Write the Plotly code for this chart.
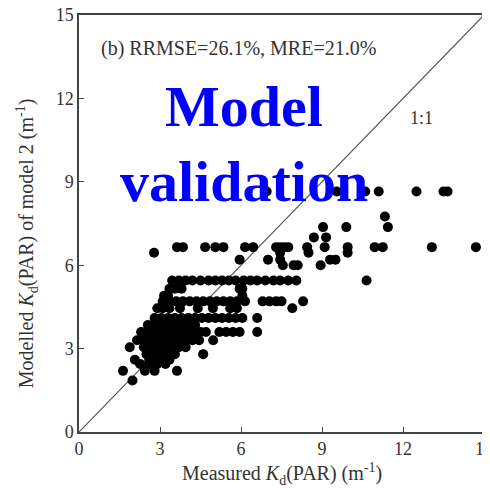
import plotly.graph_objects as go

# Modelled Kd levels (y) and measured Kd values (x) found on each level
modelled_levels = [8.65, 7.75, 7.37, 7.0, 6.65, 6.45, 6.2, 6.0,
                   5.45, 5.15, 4.9, 4.7, 4.45, 4.1, 3.85, 3.6,
                   3.3, 3.05, 2.8, 2.6, 2.45, 2.2, 1.85]
measured_by_level = [
    [6.95, 9.55, 10.6, 11.1, 12.5, 13.5, 13.65],
    [11.33],
    [9.04, 9.9, 11.44],
    [8.7, 9.15],
    [3.63, 3.85, 4.67, 5.05, 5.35, 6.15, 6.45, 7.3, 7.45, 7.6, 7.75, 8.45,
     9.1, 9.95, 10.95, 11.25, 13.07, 14.7],
    [2.78, 7.45, 8.5, 9.95],
    [5.95, 7.0, 7.45, 9.3, 9.5],
    [7.55, 7.95, 8.1, 8.95],
    [3.45, 3.7, 3.95, 4.2, 4.5, 4.8, 5.05, 5.3, 5.55, 5.8, 6.1, 6.35, 6.6,
     6.9, 7.2, 7.45, 7.75, 8.05, 10.65],
    [3.35, 3.55, 3.8, 5.95, 6.05],
    [3.15, 3.3, 6.05],
    [3.1, 3.35, 3.6, 3.85, 4.1, 4.35, 4.6, 4.85, 5.1, 5.35, 5.6, 5.85, 6.15,
     6.8, 7.05, 7.3, 7.5, 8.3],
    [2.9, 3.1, 3.35, 3.74, 4.4, 4.96, 5.6, 5.85, 7.9],
    [2.8, 3.05, 3.3, 3.55, 3.8, 4.05, 4.3, 4.55, 4.8, 5.05, 5.3, 5.55, 5.8,
     6.05, 6.6],
    [2.55, 2.75, 3.0, 3.2, 3.5, 3.75, 4.0, 4.3],
    [2.3, 2.5, 2.7, 2.9, 3.1, 3.3, 3.5, 3.7, 3.9, 4.1, 4.3, 4.5, 4.7, 5.2,
     5.45, 5.7, 5.95, 6.6],
    [2.15, 2.35, 2.55, 2.75, 2.95, 3.15, 3.35, 3.55, 3.75, 3.95, 4.2, 4.45,
     4.97],
    [1.88, 2.4, 2.6, 2.8, 3.0, 3.2, 3.45, 3.7, 3.95],
    [2.5, 2.7, 2.9, 3.1, 3.3, 3.55, 4.6],
    [2.07, 2.6, 2.85, 3.1, 3.35],
    [2.26, 2.6, 2.9, 3.2],
    [1.63, 2.44, 2.8, 3.63],
    [1.98],
]
tick_values = [0, 3, 6, 9, 12, 15]
tick_labels = ["0", "3", "6", "9", "12", "15"]
one_to_one = [0, 15]

measured = []
modelled = []
for level, xs in zip(modelled_levels, measured_by_level):
    for xv in xs:
        measured.append(xv)
        modelled.append(level)

FONT = "Liberation Serif, Times New Roman, serif"
TXT = "#333333"

fig = go.Figure()
fig.add_trace(go.Scatter(x=one_to_one, y=one_to_one, mode="lines",
                         line=dict(color="#555555", width=1.2),
                         showlegend=False, hoverinfo="skip"))
fig.add_trace(go.Scatter(x=measured, y=modelled, mode="markers",
                         marker=dict(color="black", size=10, line=dict(width=0)),
                         showlegend=False))

axis_common = dict(range=[0, 15], tickvals=tick_values, ticktext=tick_labels,
                   ticks="inside", ticklen=5, tickcolor="#444444",
                   showline=True, linecolor="#444444", linewidth=1.5,
                   mirror=True, showgrid=False, zeroline=False,
                   automargin=False, ticklabeloverflow="allow",
                   tickfont=dict(family=FONT, size=18, color=TXT))

# page body has an 8px default margin, so the figure is drawn 8px in/down
fig.update_layout(
    width=482, height=480,
    margin=dict(l=71, r=6, t=7, b=56),
    paper_bgcolor="white", plot_bgcolor="white",
    xaxis=dict(**axis_common),
    yaxis=dict(**axis_common),
    annotations=[
        dict(text="Measured <i>K</i><sub>d</sub>(PAR) (m<sup>-1</sup>)",
             xref="paper", yref="paper", x=0.5, y=-0.10,
             xanchor="center", yanchor="middle", showarrow=False,
             font=dict(family=FONT, size=20, color=TXT)),
        dict(text="Modelled <i>K</i><sub>d</sub>(PAR) of model 2 (m<sup>-1</sup>)",
             xref="paper", yref="paper", x=-0.128, y=0.453,
             xanchor="center", yanchor="middle", textangle=-90, showarrow=False,
             font=dict(family=FONT, size=20, color=TXT)),
        dict(text="(b) RRMSE=26.1%, MRE=21.0%",
             xref="x", yref="y", x=0.75, y=13.8,
             xanchor="left", yanchor="middle", showarrow=False,
             font=dict(family=FONT, size=20, color=TXT)),
        dict(text="1:1", xref="x", yref="y", x=12.7, y=11.3,
             xanchor="center", yanchor="middle", showarrow=False,
             font=dict(family=FONT, size=18, color=TXT)),
        dict(text="<b>Model</b>", xref="x", yref="y", x=6.1, y=11.7,
             xanchor="center", yanchor="middle", showarrow=False,
             font=dict(family=FONT, size=58, color="#0000FF")),
        dict(text="<b>validation</b>", xref="x", yref="y", x=6.1, y=9.0,
             xanchor="center", yanchor="middle", showarrow=False,
             font=dict(family=FONT, size=58, color="#0000FF")),
    ],
)

fig.write_html("out.html")
